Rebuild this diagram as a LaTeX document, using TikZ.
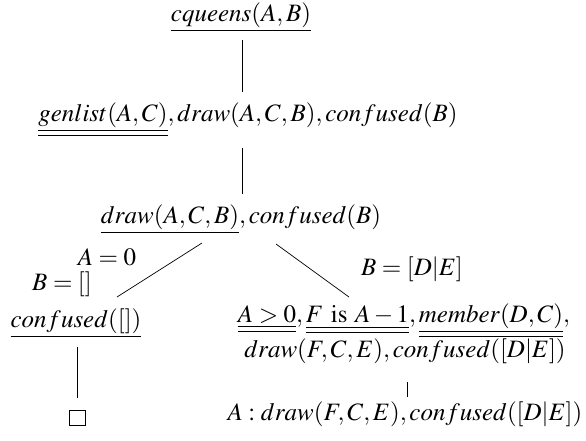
\documentclass[tikz,border=0pt]{standalone}
\usepackage{mathptmx}
\usetikzlibrary{calc}
\begin{document}
\begin{tikzpicture}[x=1pt,y=-1pt,
  every node/.style={inner sep=0pt, anchor=base, font=\fontsize{25}{30}\selectfont},
  link/.style={draw, line width=0.7pt},
  goalbox/.style={draw, line width=0.7pt, minimum width=16pt, minimum height=15pt, anchor=center}]
\useasboundingbox (0,0) rectangle (586,440);
\node (q) at (241,21) {$\underline{cqueens(A,B)}$};
\node (g) at (248,121) {$\underline{\underline{genlist(A,C)}},draw(A,C,B),confused(B)$};
\node (d) at (241,223) {$\underline{draw(A,C,B)},confused(B)$};
\node (c) at (76,327) {$\underline{confused([])}$};
\node (r1) at (404,322) {$\underline{\underline{A>0}},\underline{\underline{F\ \mathrm{is}\ A-1}},\underline{\underline{member(D,C)}},$};
\node (r2) at (405,357) {$draw(F,C,E),confused([D|E])$};
\node (r3) at (405,420) {$A:draw(F,C,E),confused([D|E])$};
\node[goalbox] (e) at (77,418) {};
\node (l1) at (107,265) {$A=0$};
\node (l2) at (62,290) {$B=[]$};
\node (l3) at (412,275) {$B=[D|E]$};
\draw[link] ($(q.base)+(1,19)$) -- ($(g.base)+(-6,-29)$);
\draw[link] ($(g.base)+(-6,27)$) -- ($(d.base)+(1,-29)$);
\draw[link] ($(d.base)+(-39,20)$) -- ($(c.base)+(41,-30)$);
\draw[link] ($(d.base)+(35,21)$) -- ($(r1.base)+(-55,-25)$);
\draw[link] ($(c.base)+(1,20)$) -- ($(e.center)+(0,-20)$);
\draw[link] ($(r2.base)+(2,25)$) -- ($(r3.base)+(2,-23)$);
\end{tikzpicture}
\end{document}
